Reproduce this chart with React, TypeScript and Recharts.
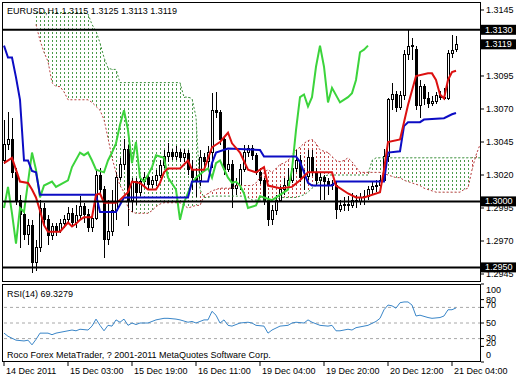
import React from "react";
import { ComposedChart, Line, Area, Bar, XAxis, YAxis, ReferenceLine } from "recharts";

const FONT = "'Liberation Sans', Arial, sans-serif";

// EURUSD H1 candles, bar 0 = 14 Dec 11:00
const opens = [
  1.3031, 1.3043, 1.3047, 1.3022, 1.3001, 1.2990, 1.2975, 1.2982, 1.2954, 1.2965,
  1.2995, 1.2986, 1.2974, 1.2981, 1.2978, 1.2983, 1.2986, 1.2991, 1.2984, 1.2989,
  1.2996, 1.2990, 1.2980, 1.2987, 1.3020, 1.3009, 1.2971, 1.2977, 1.2993, 1.3018,
  1.3028, 1.3039, 1.3001, 1.3015, 1.3007, 1.3015, 1.3018, 1.3013, 1.3016, 1.3020,
  1.3027, 1.3034, 1.3037, 1.3034, 1.3037, 1.3033, 1.3036, 1.3024, 1.3018, 1.3016,
  1.3033, 1.3030, 1.3037, 1.3069, 1.3067, 1.3047, 1.3024, 1.3028, 1.3010, 1.3012,
  1.3024, 1.3037, 1.3040, 1.3035, 1.3022, 1.3016, 1.3001, 1.2986, 1.2993, 1.3001,
  1.3009, 1.3012, 1.3016, 1.3025, 1.3031, 1.3018, 1.3019, 1.3033, 1.3022, 1.3016,
  1.3018, 1.3015, 1.3012, 1.3012, 1.2994, 1.2997, 1.2998, 1.2997, 1.3001, 1.3000,
  1.3003, 1.3004, 1.3009, 1.3011, 1.3012, 1.3016, 1.3034, 1.3077, 1.3081, 1.3071,
  1.3080, 1.3111, 1.3117, 1.3115, 1.3073, 1.3087, 1.3078, 1.3074, 1.3076, 1.3080,
  1.3079, 1.3078, 1.3112, 1.3115,
];
const highs = [
  1.3062, 1.3068, 1.3063, 1.3025, 1.3005, 1.2992, 1.2987, 1.2986, 1.2971, 1.3001,
  1.2999, 1.2990, 1.2984, 1.2984, 1.2987, 1.2990, 1.2996, 1.2995, 1.2997, 1.3004,
  1.2999, 1.2994, 1.2992, 1.3024, 1.3025, 1.3012, 1.3001, 1.3009, 1.3022, 1.3033,
  1.3047, 1.3043, 1.3018, 1.3018, 1.3019, 1.3022, 1.3020, 1.3019, 1.3024, 1.3031,
  1.3039, 1.3044, 1.3040, 1.3042, 1.3040, 1.3040, 1.3039, 1.3031, 1.3025, 1.3039,
  1.3037, 1.3042, 1.3082, 1.3083, 1.3069, 1.3049, 1.3039, 1.3031, 1.3018, 1.3028,
  1.3043, 1.3043, 1.3043, 1.3037, 1.3025, 1.3018, 1.3004, 1.2997, 1.3005, 1.3012,
  1.3018, 1.3025, 1.3031, 1.3039, 1.3035, 1.3024, 1.3039, 1.3039, 1.3025, 1.3022,
  1.3020, 1.3018, 1.3016, 1.3015, 1.3001, 1.3003, 1.3004, 1.3006, 1.3005, 1.3006,
  1.3009, 1.3012, 1.3015, 1.3016, 1.3020, 1.3040, 1.3078, 1.3090, 1.3084, 1.3084,
  1.3115, 1.3130, 1.3124, 1.3118, 1.3092, 1.3089, 1.3083, 1.3080, 1.3083, 1.3084,
  1.3086, 1.3115, 1.3126, 1.3125,
];
const lows = [
  1.3028, 1.3039, 1.3018, 1.2997, 1.2965, 1.2971, 1.2967, 1.2946, 1.2947, 1.2962,
  1.2981, 1.2967, 1.2971, 1.2974, 1.2976, 1.2980, 1.2983, 1.2981, 1.2980, 1.2986,
  1.2984, 1.2977, 1.2977, 1.2986, 1.3005, 1.2957, 1.2967, 1.2974, 1.2986, 1.3016,
  1.3024, 1.2981, 1.2992, 1.2997, 1.3004, 1.3010, 1.3009, 1.3010, 1.3012, 1.3018,
  1.3025, 1.3030, 1.3031, 1.3031, 1.3030, 1.3030, 1.3020, 1.3009, 1.3003, 1.3012,
  1.3025, 1.3024, 1.3025, 1.3063, 1.3043, 1.3020, 1.3022, 1.2995, 1.3005, 1.3009,
  1.3022, 1.3034, 1.3031, 1.3020, 1.3013, 1.2997, 1.2981, 1.2982, 1.2990, 1.3000,
  1.3005, 1.3010, 1.3014, 1.3022, 1.3015, 1.3009, 1.3016, 1.3019, 1.3012, 1.3001,
  1.3001, 1.3005, 1.3009, 1.2987, 1.2992, 1.2993, 1.2993, 1.2995, 1.2995, 1.2997,
  1.2997, 1.3001, 1.3005, 1.3007, 1.3007, 1.3015, 1.3030, 1.3069, 1.3068, 1.3069,
  1.3077, 1.3107, 1.3107, 1.3069, 1.3063, 1.3073, 1.3071, 1.3072, 1.3074, 1.3077,
  1.3077, 1.3077, 1.3109, 1.3113,
];
const closes = [
  1.3043, 1.3047, 1.3022, 1.3001, 1.2990, 1.2975, 1.2982, 1.2954, 1.2965, 1.2995,
  1.2986, 1.2974, 1.2981, 1.2978, 1.2983, 1.2986, 1.2991, 1.2984, 1.2989, 1.2996,
  1.2990, 1.2980, 1.2987, 1.3020, 1.3009, 1.2971, 1.2977, 1.2993, 1.3018, 1.3028,
  1.3039, 1.3001, 1.3015, 1.3007, 1.3015, 1.3018, 1.3013, 1.3016, 1.3020, 1.3027,
  1.3034, 1.3037, 1.3034, 1.3037, 1.3033, 1.3036, 1.3024, 1.3018, 1.3016, 1.3033,
  1.3030, 1.3037, 1.3069, 1.3067, 1.3047, 1.3024, 1.3028, 1.3010, 1.3012, 1.3024,
  1.3037, 1.3040, 1.3035, 1.3022, 1.3016, 1.3001, 1.2986, 1.2993, 1.3001, 1.3009,
  1.3012, 1.3016, 1.3025, 1.3031, 1.3018, 1.3019, 1.3033, 1.3022, 1.3016, 1.3018,
  1.3015, 1.3012, 1.3013, 1.2994, 1.2997, 1.2998, 1.2997, 1.3001, 1.3000, 1.3003,
  1.3004, 1.3009, 1.3011, 1.3012, 1.3016, 1.3034, 1.3077, 1.3081, 1.3071, 1.3080,
  1.3111, 1.3117, 1.3118, 1.3073, 1.3087, 1.3078, 1.3074, 1.3076, 1.3080, 1.3079,
  1.3078, 1.3112, 1.3114, 1.3119,
];

// Ichimoku lines as [bar, price]
const tenkan: [number, number][] = [
  [0, 1.3029], [2, 1.3033], [4, 1.3015], [6, 1.3014], [7, 1.3009], [8, 1.3003], [9, 1.2993],
  [10, 1.2982], [11, 1.2977], [14, 1.2977], [16, 1.2984], [17, 1.2981], [18, 1.2983], [19, 1.2986],
  [20, 1.2988], [22, 1.2988], [23, 1.3005], [24, 1.3006], [25, 1.2999], [28, 1.2999], [29, 1.3001],
  [31, 1.3007], [32, 1.3015], [34, 1.3014], [36, 1.3009], [38, 1.3009], [39, 1.3014], [40, 1.3022],
  [41, 1.3025], [44, 1.3025], [46, 1.3031], [47, 1.3024], [50, 1.3024], [52, 1.3041], [54, 1.3045],
  [56, 1.3052], [57, 1.3044], [59, 1.3037], [61, 1.3024], [63, 1.3022], [65, 1.3026], [66, 1.3012],
  [69, 1.3010], [72, 1.3011], [74, 1.3016], [76, 1.3022], [82, 1.3022], [83, 1.3012], [86, 1.3006],
  [88, 1.3003], [90, 1.3003], [94, 1.3007], [95, 1.3024], [96, 1.3045], [99, 1.3047], [100, 1.3060],
  [101, 1.3073], [103, 1.3095], [106, 1.3097], [107, 1.3097], [108, 1.3092], [109, 1.3081],
  [110, 1.3078], [111, 1.3092], [112, 1.3098], [113, 1.3099],
];
const kijun: [number, number][] = [
  [0, 1.3118], [1, 1.3109], [2, 1.3109], [3, 1.3094], [4, 1.3077], [5, 1.3031], [6, 1.3031],
  [7, 1.3023], [8, 1.3022], [9, 1.3005], [23, 1.3005], [24, 1.2992], [28, 1.2992], [30, 1.3003],
  [46, 1.3003], [47, 1.3015], [51, 1.3015], [52, 1.3029], [53, 1.3037], [56, 1.3040], [64, 1.3039],
  [65, 1.3034], [73, 1.3034], [74, 1.3030], [76, 1.3014], [77, 1.3012], [82, 1.3012], [83, 1.3015],
  [95, 1.3015], [96, 1.3037], [99, 1.3038], [100, 1.3057], [101, 1.3060], [104, 1.3060],
  [105, 1.3062], [110, 1.3063], [112, 1.3066], [113, 1.3067],
];
const chikou: [number, number][] = [
  [0, 1.2995], [1, 1.3011], [2, 1.2991], [3, 1.2968], [4, 1.2995], [5, 1.2992], [7, 1.3037],
  [8, 1.3024], [9, 1.3003], [10, 1.3012], [12, 1.3015], [13, 1.3011], [16, 1.3016], [17, 1.3026],
  [19, 1.3037], [20, 1.3035], [21, 1.3037], [22, 1.3031], [23, 1.3024], [25, 1.3022], [26, 1.3031],
  [27, 1.3037], [28, 1.3044], [29, 1.3058], [30, 1.3069], [31, 1.3054], [32, 1.3029], [33, 1.3045],
  [34, 1.3018], [35, 1.3015], [36, 1.3020], [37, 1.3026], [38, 1.3035], [40, 1.3033], [41, 1.3018],
  [43, 1.3009], [44, 1.2986], [45, 1.2999], [47, 1.3014], [48, 1.3018], [50, 1.3023], [51, 1.3025],
  [52, 1.3018], [53, 1.3029], [54, 1.3031], [56, 1.3018], [57, 1.3014], [58, 1.3015], [59, 1.3012],
  [60, 1.3006], [61, 1.2995], [63, 1.2997], [64, 1.3004], [65, 1.3003], [67, 1.3001], [69, 1.3005],
  [71, 1.3009], [72, 1.3024], [73, 1.3054], [74, 1.3079], [75, 1.3081], [76, 1.3072], [77, 1.3079],
  [78, 1.3102], [79, 1.3118], [80, 1.3102], [81, 1.3075], [82, 1.3086], [84, 1.3075], [86, 1.3079],
  [87, 1.3082], [88, 1.3092], [89, 1.3113], [90, 1.3115], [91, 1.3118],
];

// cloud spans, from bar 8 to bar 119 (26 bars ahead)
const cloudStart = 8;
const spanG = [
  1.3143, 1.3143, 1.3143, 1.3143, 1.3143, 1.3143, 1.3143, 1.3143, 1.3143, 1.3143,
  1.3143, 1.3143, 1.3143, 1.3142, 1.3134, 1.3129, 1.3120, 1.3109, 1.3101, 1.3100,
  1.3100, 1.3090, 1.3090, 1.3090, 1.3090, 1.3090, 1.3090, 1.3090, 1.3090, 1.3090,
  1.3090, 1.3090, 1.3090, 1.3090, 1.3090, 1.3090, 1.3090, 1.3079, 1.3079, 1.3078,
  1.3064, 1.3009, 1.3003, 1.3003, 1.3004, 1.3004, 1.3004, 1.3004, 1.3004, 1.3004,
  1.3004, 1.3004, 1.3004, 1.3003, 1.3001, 1.3001, 1.3001, 1.3001, 1.3001, 1.3001,
  1.3001, 1.3003, 1.3003, 1.3003, 1.3003, 1.3003, 1.3004, 1.3005, 1.3007, 1.3010,
  1.3012, 1.3016, 1.3019, 1.3020, 1.3020, 1.3020, 1.3020, 1.3020, 1.3020, 1.3020,
  1.3020, 1.3020, 1.3020, 1.3020, 1.3031, 1.3033, 1.3033, 1.3033, 1.3033, 1.3033,
  1.3033, 1.3033, 1.3033, 1.3033, 1.3033, 1.3033, 1.3033, 1.3033, 1.3033, 1.3033,
  1.3033, 1.3033, 1.3033, 1.3033, 1.3033, 1.3033, 1.3033, 1.3033, 1.3033, 1.3033,
  1.3033, 1.3033,
];
const spanR = [
  1.3134, 1.3122, 1.3113, 1.3106, 1.3090, 1.3087, 1.3087, 1.3083, 1.3077, 1.3077,
  1.3077, 1.3077, 1.3077, 1.3077, 1.3075, 1.3072, 1.3069, 1.3062, 1.3048, 1.3033,
  1.3022, 1.3012, 1.3007, 1.2995, 1.2992, 1.2991, 1.2991, 1.2991, 1.2991, 1.2993,
  1.2996, 1.2998, 1.2999, 1.2999, 1.2999, 1.2999, 1.2999, 1.2997, 1.2995, 1.2996,
  1.2997, 1.2997, 1.3004, 1.3006, 1.3008, 1.3009, 1.3010, 1.3010, 1.3010, 1.3010,
  1.3012, 1.3012, 1.3012, 1.3012, 1.3012, 1.3014, 1.3018, 1.3022, 1.3024, 1.3022,
  1.3025, 1.3028, 1.3029, 1.3031, 1.3035, 1.3039, 1.3041, 1.3044, 1.3046, 1.3047,
  1.3044, 1.3039, 1.3038, 1.3037, 1.3034, 1.3031, 1.3030, 1.3031, 1.3033, 1.3030,
  1.3026, 1.3022, 1.3022, 1.3022, 1.3022, 1.3022, 1.3022, 1.3021, 1.3020, 1.3019,
  1.3018, 1.3018, 1.3016, 1.3015, 1.3014, 1.3013, 1.3012, 1.3010, 1.3009, 1.3008,
  1.3007, 1.3007, 1.3007, 1.3007, 1.3007, 1.3007, 1.3007, 1.3009, 1.3010, 1.3024,
  1.3035, 1.3043,
];

const rsi: [number, number][] = [
  [0, 37], [1, 33], [3, 28], [5, 27], [6, 28], [7, 22], [8, 29], [9, 37], [11, 37], [12, 35],
  [13, 37], [16, 40], [17, 41], [18, 40], [19, 42], [21, 41], [22, 46], [23, 55], [24, 47],
  [25, 40], [26, 47], [27, 46], [28, 54], [29, 51], [30, 55], [31, 47], [32, 50], [33, 48],
  [34, 50], [36, 50], [38, 54], [40, 56], [41, 56], [43, 55], [44, 54], [46, 51], [47, 52],
  [48, 50], [50, 54], [51, 54], [52, 65], [53, 60], [54, 50], [55, 54], [56, 47], [57, 46],
  [59, 50], [61, 51], [62, 50], [63, 47], [65, 46], [66, 37], [67, 41], [69, 46], [71, 47],
  [72, 50], [73, 51], [75, 50], [76, 54], [77, 51], [79, 47], [81, 46], [82, 47], [83, 40],
  [84, 40], [86, 42], [87, 41], [88, 44], [90, 46], [91, 47], [93, 52], [94, 56], [95, 67],
  [96, 73], [97, 72], [98, 69], [99, 76], [100, 77], [101, 77], [102, 73], [103, 59], [104, 60],
  [106, 57], [107, 56], [109, 57], [110, 59], [111, 67], [112, 67], [113, 69.3279],
];

// 1.3120 sits under the bid box in the original, so it is left out
const priceTicks = [1.3145, 1.3095, 1.307, 1.3045, 1.302, 1.2995, 1.297, 1.2945];
const levels = [1.313, 1.3, 1.295];
const bid = 1.3119;
const rsiTicks = [100, 80, 70, 50, 30, 20, 0];
const rsiLevels = [70, 50, 30];
const timeTicks = [0, 16, 32, 48, 64, 80, 96, 112];
const timeLabels = [
  "14 Dec 2011", "15 Dec 03:00", "15 Dec 19:00", "16 Dec 11:00",
  "19 Dec 04:00", "19 Dec 20:00", "20 Dec 12:00", "21 Dec 04:00",
];

const candles = opens.map((o, k) => ({ i: k, o, h: highs[k], l: lows[k], c: closes[k], hl: [lows[k], highs[k]] }));
const pts = (a: [number, number][]) => a.map(([i, v]) => ({ i, v }));

const cloud = spanG.map((g, k) => ({ i: k + cloudStart, g, r: spanR[k] }));
const bands = cloud.map((d, k) => {
  const near = [cloud[k - 1], d, cloud[k + 1]].filter(Boolean);
  const rng = [Math.min(d.g, d.r), Math.max(d.g, d.r)];
  return {
    i: d.i,
    green: near.some((n) => n.g >= n.r) ? rng : null,
    red: near.some((n) => n.r > n.g) ? rng : null,
  };
});

const X_DOMAIN: [number, number] = [-0.25, 119.25];

function Candle(props: any) {
  const { x, y, width, height, payload } = props;
  if (!payload || x == null || y == null) return null;
  const px = Math.round(x + width / 2);
  const top = Math.min(y, y + height);
  const bot = Math.max(y, y + height);
  const span = payload.h - payload.l || 1e-9;
  const at = (v: number) => top + ((payload.h - v) / span) * (bot - top);
  const yo = at(payload.o);
  const yc = at(payload.c);
  const up = payload.c >= payload.o;
  const bt = Math.min(yo, yc);
  const bb = Math.max(yo, yc);
  return (
    <g shapeRendering="crispEdges">
      <line x1={px + 0.5} x2={px + 0.5} y1={top} y2={bot} stroke="#000" />
      <rect x={px - 0.5} y={bt} width={2} height={Math.max(bb - bt, 1)} fill={up ? "#fff" : "#000"} stroke="#000" />
    </g>
  );
}

function PriceTick(props: any) {
  const { x, y, payload } = props;
  const v = payload.value;
  const label = v.toFixed(4);
  if (levels.includes(v) || v === bid) {
    return (
      <g>
        <rect x={x - 5} y={y - 5} width={35} height={10} fill="#000" />
        <text x={x - 1} y={y + 3} fill="#fff" fontSize={9} fontFamily={FONT}>{label}</text>
      </g>
    );
  }
  return (
    <text x={x} y={y + 3} fill="#000" fontSize={9} fontFamily={FONT}>{label}</text>
  );
}

const rsiDy: Record<number, number> = { 100: 6, 80: 0, 70: -2, 50: 0, 30: -1, 20: -3, 0: -7 };
function RsiTick(props: any) {
  const { x, y, payload } = props;
  return (
    <text x={x} y={y + 3 + (rsiDy[payload.value] ?? 0)} fill="#000" fontSize={9} fontFamily={FONT}>
      {payload.value}
    </text>
  );
}

function TimeTick(props: any) {
  const { x, y, payload } = props;
  const k = timeTicks.indexOf(payload.value);
  return (
    <text x={x + 2} y={y + 6} fill="#000" fontSize={9} fontFamily={FONT}>
      {timeLabels[k]}
    </text>
  );
}

export default function App() {
  return (
    <div style={{ position: "absolute", left: 0, top: 0, width: 520, height: 380, background: "#fff" }}>
      <div style={{ position: "absolute", left: 0, top: 0 }}>
        <ComposedChart width={520} height={380} data={candles} margin={{ top: 3, right: 0, bottom: 99, left: 3 }}>
          <defs>
            <pattern id="dotG" patternUnits="userSpaceOnUse" width={4} height={4}>
              <rect x={0} y={0} width={1} height={2} fill="#4a9a4a" />
            </pattern>
            <pattern id="dotR" patternUnits="userSpaceOnUse" width={4} height={4}>
              <rect x={0} y={0} width={1} height={2} fill="#c04848" />
            </pattern>
          </defs>
          <XAxis type="number" dataKey="i" domain={X_DOMAIN} allowDataOverflow hide />
          <YAxis
            orientation="right"
            width={39}
            domain={[1.29397, 1.31503]}
            allowDataOverflow
            ticks={[...priceTicks, ...levels, bid]}
            interval={0}
            tick={<PriceTick />}
            tickSize={3}
            tickLine={{ stroke: "#000" }}
            axisLine={false}
          />
          <Area data={bands} dataKey="green" stroke="none" fill="url(#dotG)" fillOpacity={1} isAnimationActive={false} activeDot={false} />
          <Area data={bands} dataKey="red" stroke="none" fill="url(#dotR)" fillOpacity={1} isAnimationActive={false} activeDot={false} />
          <Line data={cloud} dataKey="g" stroke="#3a8f3a" strokeDasharray="2 2" strokeWidth={1} dot={false} activeDot={false} isAnimationActive={false} />
          <Line data={cloud} dataKey="r" stroke="#b83c3c" strokeDasharray="2 2" strokeWidth={1} dot={false} activeDot={false} isAnimationActive={false} />
          <Bar dataKey="hl" barSize={3} shape={<Candle />} isAnimationActive={false} />
          <Line data={pts(chikou)} dataKey="v" stroke="#3cd43c" strokeWidth={2} dot={false} activeDot={false} isAnimationActive={false} />
          <Line data={pts(kijun)} dataKey="v" stroke="#0c0cc4" strokeWidth={2} dot={false} activeDot={false} isAnimationActive={false} />
          <Line data={pts(tenkan)} dataKey="v" stroke="#dc1010" strokeWidth={2} dot={false} activeDot={false} isAnimationActive={false} />
          {levels.map((v) => (
            <ReferenceLine key={v} y={v} stroke="#000" strokeWidth={2} />
          ))}
        </ComposedChart>
      </div>
      <div style={{ position: "absolute", left: 0, top: 0 }}>
        <ComposedChart width={520} height={380} margin={{ top: 284, right: 0, bottom: 0, left: 3 }}>
          <XAxis
            type="number"
            dataKey="i"
            domain={X_DOMAIN}
            allowDataOverflow
            ticks={timeTicks}
            interval={0}
            height={18}
            tick={<TimeTick />}
            tickSize={4}
            tickLine={{ stroke: "#000" }}
            axisLine={false}
          />
          <YAxis
            orientation="right"
            width={39}
            domain={[0, 100]}
            ticks={rsiTicks}
            interval={0}
            tick={<RsiTick />}
            tickSize={3}
            tickLine={{ stroke: "#000" }}
            axisLine={false}
          />
          {rsiLevels.map((v) => (
            <ReferenceLine key={v} y={v} stroke="#a8a8a8" strokeDasharray="3 3" />
          ))}
          <Line data={pts(rsi)} dataKey="v" stroke="#3a86c8" strokeWidth={1} dot={false} activeDot={false} isAnimationActive={false} />
        </ComposedChart>
      </div>
      <svg width={520} height={380} style={{ position: "absolute", left: 0, top: 0, pointerEvents: "none" }}>
        <rect x={2.5} y={2.5} width={478} height={279} fill="none" stroke="#000" />
        <rect x={2.5} y={284.5} width={478} height={77} fill="none" stroke="#000" />
        <text x={7} y={14} fontSize={9} fontFamily={FONT} fill="#000">EURUSD,H1  1.3115 1.3125 1.3113 1.3119</text>
        <text x={7} y={297} fontSize={9} fontFamily={FONT} fill="#000">RSI(14) 69.3279</text>
        <text x={7} y={358} fontSize={9} fontFamily={FONT} fill="#000">Roco Forex MetaTrader, ? 2001-2011 MetaQuotes Software Corp.</text>
      </svg>
    </div>
  );
}
